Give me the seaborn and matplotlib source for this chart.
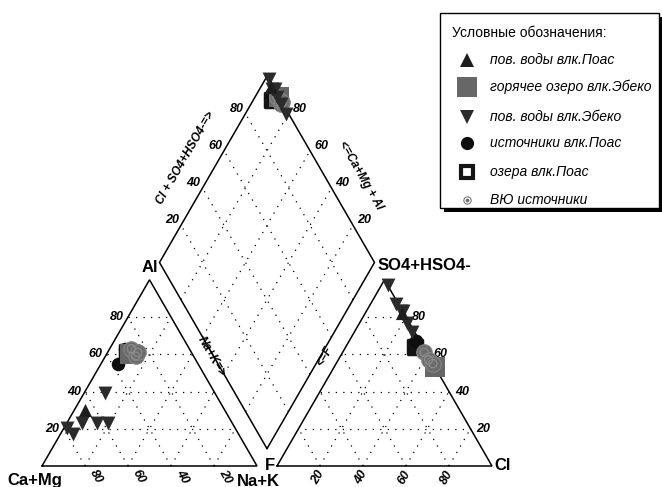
import numpy as np
import pandas as pd
import matplotlib
matplotlib.use("Agg")
import matplotlib.pyplot as plt
import seaborn as sns
from matplotlib.patches import Rectangle

sns.set_theme(style="white")
plt.rcParams['font.family'] = ['Liberation Sans', 'DejaVu Sans']

# ---- data -------------------------------------------------------------
groups = ["пов. воды влк.Поас", "горячее озеро влк.Эбеко", "пов. воды влк.Эбеко",
          "источники влк.Поас", "озера влк.Поас", "ВЮ источники"]

# one entry per sample
sample_group = [0, 1, 2, 2, 2, 2, 2, 2, 3, 3, 4, 5, 5, 5]
# cations, %-eq
camg = [65, 29, 51, 70, 63, 58, 78, 77, 37, 30, 30, 27, 27, 25]
nak  = [5, 11, 10, 7, 14, 19, 1.5, 6, 8, 7, 9, 10, 14, 14]
al   = [30, 60, 39, 23, 23, 23, 20.5, 17, 55, 63, 61, 63, 59, 61]
# anions, %-eq
f    = [1, 0, 1, 0, 1, 1, 0, 1, 2, 2, 4, 1, 1, 0]
cl   = [17, 47, 12, 17, 27, 16, 3, 22, 31, 31, 32, 38, 42, 45]
so4  = [82, 53, 87, 83, 72, 83, 97, 77, 67, 67, 64, 61, 57, 55]

ticks = [20, 40, 60, 80]

# ---- geometry of the Piper layout -------------------------------------
H = np.sqrt(3) / 2
GAP = 20 / 215


def cation_xy(c, n, a):
    t = c + n + a
    return n / t + a / t / 2, a / t * H


def anion_xy(fl, c, s):
    t = fl + c + s
    return 1 + GAP + c / t + s / t / 2, s / t * H


def diamond_xy(a, s):
    # a = (Ca+Mg+Al) fraction, s = (Cl+SO4) fraction
    bx, by = 1 + GAP / 2, GAP * H
    return bx - a / 2 + s / 2, by + (a + s) * H


rows = []
for i, g in enumerate(sample_group):
    xc, yc = cation_xy(camg[i], nak[i], al[i])
    xa, ya = anion_xy(f[i], cl[i], so4[i])
    tc = camg[i] + nak[i] + al[i]
    ta = f[i] + cl[i] + so4[i]
    xd, yd = diamond_xy(1 - nak[i] / tc, 1 - f[i] / ta)
    rows.append(dict(group=groups[g], xc=xc, yc=yc, xa=xa, ya=ya, xd=xd, yd=yd))
df = pd.DataFrame(rows)

# ---- figure ------------------------------------------------------------
fig = plt.figure(figsize=(6.62, 4.87), dpi=100)
ax = fig.add_axes([0, 0, 1, 1])
U = 215.0

edge_kw = dict(color='black', lw=1.1, solid_joinstyle='miter', zorder=2)
grid_kw = dict(color='black', lw=0.9, linestyle=(0, (1, 5)), zorder=1)


def seg(p, q, **kw):
    ax.plot([p[0], q[0]], [p[1], q[1]], **kw)


# outlines
lt = [cation_xy(100, 0, 0), cation_xy(0, 100, 0), cation_xy(0, 0, 100)]
rt = [anion_xy(100, 0, 0), anion_xy(0, 100, 0), anion_xy(0, 0, 100)]
dm = [diamond_xy(0, 0), diamond_xy(1, 0), diamond_xy(1, 1), diamond_xy(0, 1)]
for poly in (lt, rt, dm):
    xs = [p[0] for p in poly] + [poly[0][0]]
    ys = [p[1] for p in poly] + [poly[0][1]]
    ax.plot(xs, ys, **edge_kw)

# dotted grids
for v in ticks:
    t = v / 100
    seg(cation_xy(1 - t, 0, t), cation_xy(0, 1 - t, t), **grid_kw)
    seg(cation_xy(1 - t, t, 0), cation_xy(0, t, 1 - t), **grid_kw)
    seg(cation_xy(t, 1 - t, 0), cation_xy(t, 0, 1 - t), **grid_kw)
    seg(anion_xy(0, 1 - t, t), anion_xy(1 - t, 0, t), **grid_kw)
    seg(anion_xy(1 - t, t, 0), anion_xy(0, t, 1 - t), **grid_kw)
    seg(anion_xy(t, 1 - t, 0), anion_xy(t, 0, 1 - t), **grid_kw)
    seg(diamond_xy(t, 0), diamond_xy(t, 1), **grid_kw)
    seg(diamond_xy(0, t), diamond_xy(1, t), **grid_kw)

tick_font = dict(fontsize=9, fontweight='bold', fontstyle='italic', color='black')


def label(xy, text, dx, dy, **kw):
    ax.annotate(text, xy=xy, xytext=(dx, dy), textcoords='offset pixels', **kw)


for v in ticks:
    t = v / 100
    label(cation_xy(1 - t, 0, t), str(v), -4, 0, ha='right', va='center', **tick_font)
    label(cation_xy(t, 1 - t, 0), str(v), 11, -11, ha='center', va='center',
          rotation=-60, **tick_font)
    label(anion_xy(0, 1 - t, t), str(v), 6, 0, ha='left', va='center', **tick_font)
    label(anion_xy(1 - t, t, 0), str(v), -2, -11, ha='center', va='center',
          rotation=60, **tick_font)
    label(diamond_xy(1, t), str(v), -2, 5, ha='right', va='center', **tick_font)
    label(diamond_xy(t, 1), str(v), 4, 5, ha='left', va='center', **tick_font)

axis_font = dict(fontsize=8.5, fontweight='bold', fontstyle='italic', color='black',
                 ha='center', va='center', rotation_mode='anchor')
label(diamond_xy(1, 0.5), "Cl + SO4+HSO4-=>", -28, 11, rotation=60, **axis_font)
label(diamond_xy(0.5, 1), "<=Ca+Mg + Al", 40, -6, rotation=-60, **axis_font)
label(cation_xy(0, 41.4, 58.6), "Na+K=>", 17, 0, rotation=-60, **axis_font)
label(anion_xy(41.4, 0, 58.6), "<=F", -15, 0, rotation=60, **axis_font)

vert_font = dict(fontsize=12, fontweight='bold', color='black')
label(cation_xy(0, 0, 100), "Al", 0, 12, ha='center', va='center', **vert_font)
label(cation_xy(100, 0, 0), "Ca+Mg", -7, -14, ha='center', va='center', **vert_font)
label(cation_xy(0, 100, 0), "Na+K", 1, -15, ha='center', va='center', **vert_font)
label(anion_xy(100, 0, 0), "F", -7, 1, ha='center', va='center', **vert_font)
label(anion_xy(0, 0, 100), "SO4+HSO4-", -7, 14, ha='left', va='center', **vert_font)
label(anion_xy(0, 100, 0), "Cl", 2, 0, ha='left', va='center', **vert_font)

# ---- samples -----------------------------------------------------------
styles = {
    groups[4]: dict(marker='s', s=100, color='#141414', linewidth=2.5, edgecolor='#141414', zorder=3),
    groups[3]: dict(marker='o', s=95, color='#0e0e0e', linewidth=0, zorder=4),
    groups[1]: dict(marker='s', s=200, color='#676767', linewidth=0, zorder=5),
    groups[5]: dict(marker='o', s=125, color='#6c6c6c', edgecolor='#858585', linewidth=0.8, zorder=6),
    groups[2]: dict(marker='v', s=100, color='#2b2b2b', linewidth=0, zorder=7),
    groups[0]: dict(marker='^', s=90, color='#1e1e1e', linewidth=0, zorder=8),
}
for g, st in styles.items():
    sub = df[df['group'] == g]
    for xcol, ycol in (('xc', 'yc'), ('xa', 'ya'), ('xd', 'yd')):
        sns.scatterplot(data=sub, x=xcol, y=ycol, ax=ax, legend=False, **st)
        if g == groups[5]:
            sns.scatterplot(data=sub, x=xcol, y=ycol, ax=ax, legend=False, marker='o', s=35,
                            facecolor='none', edgecolor='#8e8e8e', linewidth=0.8, zorder=6.5)

ax.set_xlim(-42 / U, (662 - 42) / U)
ax.set_ylim(-(487 - 466) / U, 466 / U)
ax.axis('off')

# ---- legend box --------------------------------------------------------
lax = fig.add_axes([0, 0, 1, 1], zorder=10)
lax.set_xlim(0, 662)
lax.set_ylim(487, 0)
lax.axis('off')
lax.add_patch(Rectangle((444, 17), 219, 195, facecolor='black', edgecolor='none'))
lax.add_patch(Rectangle((440, 13), 219, 195, facecolor='white', edgecolor='black', lw=1))
lax.text(452, 33, "Условные обозначения:", fontsize=10, va='center', ha='left', color='black')
row_y = [60, 87, 117, 143, 172, 200]
mx, tx = 467, 490
lax.plot(mx, row_y[0], marker='^', ms=9.5, color='#1e1e1e', mew=0)
lax.plot(mx, row_y[1], marker='s', ms=15, color='#676767', mew=0)
lax.plot(mx, row_y[2], marker='v', ms=9.5, color='#2b2b2b', mew=0)
lax.plot(mx, row_y[3], marker='o', ms=9.5, color='#0e0e0e', mew=0)
lax.plot(mx, row_y[4], marker='s', ms=8, mfc='white', mec='#141414', mew=3)
lax.plot(mx, row_y[5], marker='o', ms=6, color='#6c6c6c', mew=0)
lax.plot(mx, row_y[5], marker='o', ms=3.6, mfc='#6c6c6c', mec='white', mew=0.9)
for y, name in zip(row_y, groups):
    lax.text(tx, y, name, fontsize=10, fontstyle='italic', va='center', ha='left', color='black')

fig.savefig("out.png", dpi=100)
